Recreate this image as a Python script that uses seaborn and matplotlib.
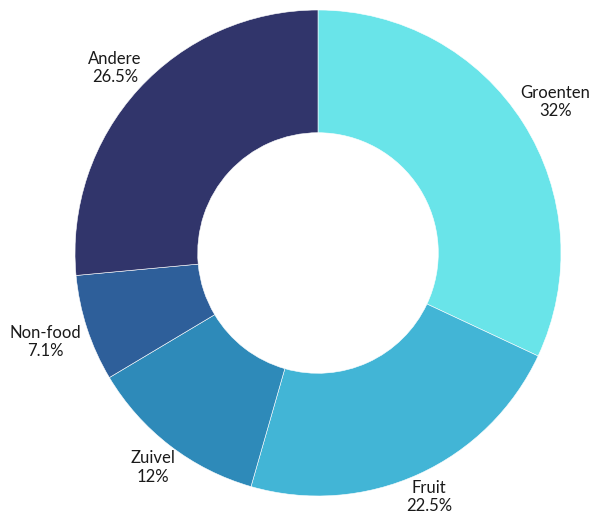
import matplotlib
matplotlib.use("Agg")
import matplotlib.pyplot as plt
import numpy as np
import seaborn as sns

# categories in clockwise order starting at 12 o'clock
categories = ["Groenten", "Fruit", "Zuivel", "Non-food", "Andere"]
shares = [32, 22.5, 12, 7.1, 26.5]
pct_labels = ["32%", "22.5%", "12%", "7.1%", "26.5%"]
colors = ["#69E4E9", "#42B5D6", "#2E8AB9", "#2E5F9A", "#31356B"]

sns.set_style("white")
plt.rcParams["font.family"] = ["Lato", "DejaVu Sans"]

fig = plt.figure(figsize=(5.89, 5.20), dpi=100)
ax = fig.add_axes([0, 0, 1, 1])

wedges, _ = ax.pie(shares, colors=sns.color_palette(colors), startangle=90,
                   counterclock=False, radius=1.0,
                   wedgeprops=dict(width=0.505, edgecolor="white", linewidth=0.4))

ax.set_aspect("auto")
ax.set_xlim(-318 / 243, 271 / 243)
ax.set_ylim(-267 / 243, 253 / 243)
ax.axis("off")

# labels outside the ring: nearest edge of the text box at a fixed gap
fig.canvas.draw()
renderer = fig.canvas.get_renderer()
inv = ax.transData.inverted()
gap = 1.025
for w, cat, pct in zip(wedges, categories, pct_labels):
    mid = np.deg2rad((w.theta1 + w.theta2) / 2)
    c, s = np.cos(mid), np.sin(mid)
    t = ax.text(0, 0, f"{cat}\n{pct}", ha="center", va="center",
                fontsize=12, color="#1a1a1a", linespacing=1.2)
    bb = t.get_window_extent(renderer).transformed(inv)
    hw, hh = bb.width / 2, bb.height / 2
    d = min(hw / max(abs(c), 1e-6), hh / max(abs(s), 1e-6))
    r = gap + d
    t.set_position((r * c, r * s))

fig.savefig("out.png", dpi=100)
